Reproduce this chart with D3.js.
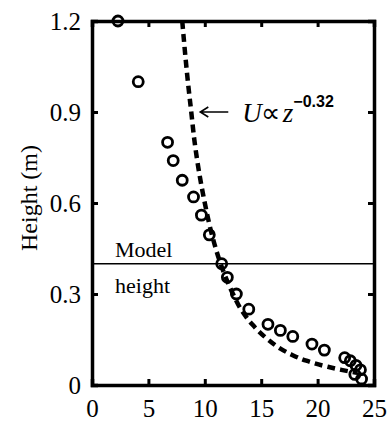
<!DOCTYPE html>
<html>
<head>
<meta charset="utf-8">
<script src="https://cdn.jsdelivr.net/npm/d3@7"></script>
<style>
  body { margin: 0; background: #fff; }
  svg { display: block; }
  svg text { font-family: "Liberation Serif", "Times New Roman", serif; fill: #000; }
</style>
</head>
<body>
<svg id="chart" width="388" height="422"></svg>
<script>
// measured velocity profile (U, z)
const obsU = [2.3, 4.1, 6.7, 7.2, 8.0, 9.0, 9.7, 10.4, 11.5, 12.0, 12.8, 13.9, 15.6, 16.7, 17.8, 19.5, 20.6, 22.4, 22.9, 23.4, 23.8, 23.3, 23.9];
const obsZ = [1.2, 1.0, 0.8, 0.74, 0.675, 0.62, 0.56, 0.495, 0.40, 0.355, 0.30, 0.25, 0.20, 0.18, 0.16, 0.135, 0.115, 0.09, 0.08, 0.065, 0.05, 0.035, 0.02];

// dashed power-law curve
const fitU = [8.0, 8.5, 8.8, 9.1, 9.5, 10.0, 10.6, 11.4, 12.5, 13.2, 14.2, 15.6, 16.7, 17.7, 19.0, 20.9, 22.1, 23.5];
const fitZ = [1.2, 1.0, 0.9, 0.8, 0.7, 0.6, 0.5, 0.4, 0.3, 0.25, 0.2, 0.15, 0.12, 0.1, 0.08, 0.06, 0.05, 0.04];

const xTicks = [0, 5, 10, 15, 20, 25];
const yTicks = [0, 0.3, 0.6, 0.9, 1.2];
const modelHeight = 0.4;

const svg = d3.select("#chart");
const margin = { top: 21, right: 14, bottom: 37, left: 92 };
const width = 388 - margin.left - margin.right;
const height = 422 - margin.top - margin.bottom;

const g = svg.append("g")
    .attr("transform", `translate(${margin.left},${margin.top})`);

const x = d3.scaleLinear().domain([0, 25]).range([0, width]);
const y = d3.scaleLinear().domain([0, 1.2]).range([height, 0]);

//axes (ticks pointing inward on all four sides)
const fmtY = d => d === 0 ? "0" : d3.format(".1f")(d);

const axB = g.append("g")
    .attr("transform", `translate(0,${height})`)
    .call(d3.axisBottom(x).tickValues(xTicks).tickSize(-6).tickPadding(15).tickFormat(d3.format("d")));
const axL = g.append("g")
    .call(d3.axisLeft(y).tickValues(yTicks).tickSize(-6).tickPadding(11).tickFormat(fmtY));
const axT = g.append("g")
    .call(d3.axisTop(x).tickValues(xTicks).tickSize(-6).tickFormat(""));
const axR = g.append("g")
    .attr("transform", `translate(${width},0)`)
    .call(d3.axisRight(y).tickValues(yTicks).tickSize(-6).tickFormat(""));

[axB, axL, axT, axR].forEach(a => {
    a.attr("font-family", null).attr("font-size", null);
    a.select(".domain").attr("stroke", "#000").attr("stroke-width", 3.5);
    a.selectAll(".tick line").attr("stroke", "#000").attr("stroke-width", 3);
    a.selectAll("text").style("font-size", "25px");
});
axB.selectAll("text").attr("dy", "0.68em");
axL.selectAll("text").attr("dy", "0.33em");

//y label
svg.append("text")
    .attr("transform", "rotate(-90)")
    .attr("x", -198)
    .attr("y", 37)
    .attr("text-anchor", "middle")
    .style("font-size", "24px")
    .text("Height (m)");

//model height line
g.append("line")
    .attr("x1", 0).attr("x2", width)
    .attr("y1", y(modelHeight)).attr("y2", y(modelHeight))
    .attr("stroke", "#000")
    .attr("stroke-width", 1.5);

g.append("text")
    .attr("x", 23).attr("y", y(modelHeight) - 7)
    .style("font-size", "22px")
    .text("Model");
g.append("text")
    .attr("x", 23).attr("y", y(modelHeight) + 29)
    .style("font-size", "22px")
    .text("height");

//dashed curve
const fit = fitU.map((u, i) => ({ u: u, z: fitZ[i] }));
const line = d3.line()
    .x(d => x(d.u))
    .y(d => y(d.z))
    .curve(d3.curveMonotoneY);

g.append("path")
    .datum(fit)
    .attr("fill", "none")
    .attr("stroke", "#000")
    .attr("stroke-width", 4.5)
    .attr("stroke-dasharray", "8,5")
    .attr("d", line);

//observations
const obs = obsU.map((u, i) => ({ u: u, z: obsZ[i] }));
g.selectAll("circle.obs")
    .data(obs)
    .enter()
    .append("circle")
    .attr("class", "obs")
    .attr("cx", d => x(d.u))
    .attr("cy", d => y(d.z))
    .attr("r", 5)
    .attr("fill", "none")
    .attr("stroke", "#000")
    .attr("stroke-width", 2.8);

//annotation: arrow pointing at the curve, then the label
const ax0 = x(9.6), ay0 = y(0.9);
g.append("path")
    .attr("d", `M${ax0 + 28},${ay0} H${ax0} M${ax0 + 8},${ay0 - 5} L${ax0},${ay0} L${ax0 + 8},${ay0 + 5}`)
    .attr("fill", "none")
    .attr("stroke", "#000")
    .attr("stroke-width", 1.6);

const ann = g.append("text")
    .attr("x", ax0 + 42).attr("y", ay0 + 10)
    .style("font-size", "27px");
ann.append("tspan").style("font-style", "italic").text("U");
ann.append("tspan").style("font-size", "27px").attr("dx", -1).text("\u221D");
ann.append("tspan").style("font-style", "italic").attr("dx", 3).text("z");
ann.append("tspan")
    .attr("dy", -15)
    .style("font-family", "'Liberation Sans', Arial, sans-serif")
    .style("font-size", "16px")
    .style("font-weight", "bold")
    .text("\u22120.32");
</script>
</body>
</html>
